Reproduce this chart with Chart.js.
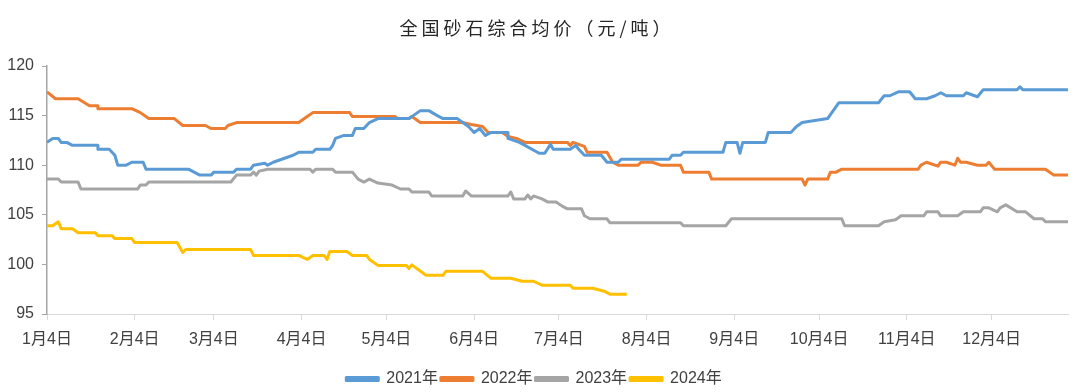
<!DOCTYPE html>
<html>
<head>
<meta charset="utf-8">
<script src="https://cdn.jsdelivr.net/npm/chart.js@4.4.1/dist/chart.umd.min.js"></script>
<style>
  body { margin: 0; background: #fff; }
  #wrap { width: 1080px; height: 392px; }
</style>
</head>
<body>
<div id="wrap"><canvas id="priceChart"></canvas></div>
<script>
// x = days after Jan 4 (Dec 31 = 361)
var tickDays = [0, 31, 59, 90, 120, 151, 181, 212, 243, 273, 304, 334];
var tickLabels = ["1月4日", "2月4日", "3月4日", "4月4日", "5月4日", "6月4日", "7月4日", "8月4日", "9月4日", "10月4日", "11月4日", "12月4日"];
var seriesNames = ["2021年", "2022年", "2023年", "2024年"];
var seriesColors = ["#5B9BD5", "#ED7D31", "#A5A5A5", "#FFC000"];
var chartTitle = "全国砂石综合均价（元/吨）";

var days2021 = [0, 2, 4, 5, 7, 9, 18, 18, 22, 24, 25, 28, 30, 34, 35, 50, 52, 54, 58, 59, 66, 67, 72, 73, 77, 78, 80, 83, 87, 89, 94, 95, 100, 101, 102, 105, 108, 109, 112, 114, 117, 128, 130, 132, 135, 138, 140, 145, 147, 149, 151, 153, 155, 157, 163, 163, 167, 169, 174, 176, 178, 179, 185, 187, 188, 190, 196, 198, 202, 203, 220, 221, 224, 225, 239, 240, 244, 245, 246, 254, 255, 263, 265, 267, 276, 280, 294, 296, 298, 301, 305, 307, 311, 314, 316, 318, 324, 325, 329, 331, 343, 344, 345, 361];
var vals2021 = [112.3, 112.7, 112.7, 112.3, 112.3, 112.0, 112.0, 111.6, 111.6, 111.0, 110.0, 110.0, 110.3, 110.3, 109.6, 109.6, 109.3, 109.0, 109.0, 109.3, 109.3, 109.6, 109.6, 110.0, 110.2, 110.0, 110.3, 110.6, 111.0, 111.3, 111.3, 111.6, 111.6, 112.0, 112.7, 113.0, 113.0, 113.7, 113.7, 114.3, 114.7, 114.7, 115.1, 115.5, 115.5, 115.0, 114.7, 114.7, 114.3, 113.9, 113.3, 113.7, 113.0, 113.3, 113.3, 112.7, 112.3, 112.0, 111.2, 111.2, 112.1, 111.6, 111.6, 112.0, 111.6, 111.0, 111.0, 110.3, 110.3, 110.6, 110.6, 111.0, 111.0, 111.3, 111.3, 112.3, 112.3, 111.2, 112.3, 112.3, 113.3, 113.3, 113.9, 114.3, 114.7, 116.3, 116.3, 117.0, 117.0, 117.4, 117.4, 116.7, 116.7, 117.0, 117.3, 117.0, 117.0, 117.3, 116.9, 117.6, 117.6, 117.9, 117.6, 117.6];

var days2022 = [0, 3, 11, 15, 18, 18, 30, 33, 36, 45, 48, 56, 58, 63, 64, 67, 89, 92, 94, 107, 108, 123, 124, 128, 129, 132, 147, 150, 154, 156, 161, 163, 166, 169, 184, 185, 186, 190, 191, 198, 200, 202, 209, 210, 214, 217, 224, 225, 234, 235, 267, 268, 269, 276, 277, 279, 281, 308, 309, 311, 315, 316, 318, 321, 322, 323, 325, 329, 332, 333, 335, 353, 356, 361];
var vals2022 = [117.4, 116.7, 116.7, 116.0, 116.0, 115.7, 115.7, 115.3, 114.7, 114.7, 114.0, 114.0, 113.7, 113.7, 114.0, 114.3, 114.3, 114.9, 115.3, 115.3, 114.9, 114.9, 114.7, 114.7, 114.9, 114.3, 114.3, 114.1, 113.9, 113.3, 113.3, 112.9, 112.7, 112.3, 112.3, 112.0, 112.3, 111.9, 111.3, 111.3, 110.3, 110.0, 110.0, 110.3, 110.3, 110.0, 110.0, 109.3, 109.3, 108.6, 108.6, 108.0, 108.6, 108.6, 109.3, 109.3, 109.6, 109.6, 110.0, 110.3, 109.9, 110.3, 110.3, 110.0, 110.7, 110.3, 110.3, 110.0, 110.0, 110.3, 109.6, 109.6, 109.0, 109.0];

var days2023 = [0, 4, 5, 11, 12, 32, 33, 35, 36, 65, 67, 72, 73, 74, 75, 78, 93, 94, 95, 101, 102, 108, 110, 112, 114, 117, 122, 125, 128, 129, 135, 136, 147, 148, 150, 163, 164, 165, 169, 170, 171, 172, 175, 177, 180, 182, 184, 189, 190, 192, 198, 199, 224, 225, 240, 242, 281, 282, 294, 296, 300, 302, 310, 311, 315, 316, 322, 324, 330, 331, 333, 336, 337, 339, 343, 346, 349, 352, 353, 361];
var vals2023 = [108.6, 108.6, 108.3, 108.3, 107.6, 107.6, 108.0, 108.0, 108.3, 108.3, 109.0, 109.0, 109.3, 109.0, 109.4, 109.6, 109.6, 109.3, 109.6, 109.6, 109.3, 109.3, 108.6, 108.3, 108.6, 108.2, 108.0, 107.6, 107.6, 107.3, 107.3, 106.9, 106.9, 107.4, 106.9, 106.9, 107.3, 106.6, 106.6, 107.0, 106.6, 106.9, 106.6, 106.3, 106.3, 105.9, 105.6, 105.6, 104.9, 104.6, 104.6, 104.2, 104.2, 103.9, 103.9, 104.6, 104.6, 103.9, 103.9, 104.3, 104.5, 104.9, 104.9, 105.3, 105.3, 104.9, 104.9, 105.3, 105.3, 105.7, 105.7, 105.3, 105.7, 106.0, 105.3, 105.3, 104.6, 104.6, 104.3, 104.3];

var days2024 = [0, 2, 4, 5, 9, 11, 17, 18, 23, 24, 30, 31, 46, 48, 49, 72, 73, 89, 92, 94, 98, 99, 100, 106, 108, 113, 114, 117, 127, 128, 129, 134, 140, 141, 154, 157, 164, 168, 172, 175, 185, 186, 193, 197, 199, 205];
var vals2024 = [103.9, 103.9, 104.3, 103.6, 103.6, 103.2, 103.2, 102.9, 102.9, 102.6, 102.6, 102.2, 102.2, 101.2, 101.5, 101.5, 100.9, 100.9, 100.5, 100.9, 100.9, 100.5, 101.3, 101.3, 100.9, 100.9, 100.5, 99.9, 99.9, 99.6, 99.95, 98.9, 98.9, 99.3, 99.3, 98.6, 98.6, 98.3, 98.3, 97.9, 97.9, 97.6, 97.6, 97.3, 97.0, 97.0];

var allDays = [days2021, days2022, days2023, days2024];
var allVals = [vals2021, vals2022, vals2023, vals2024];

function toPoints(d, v) {
    return d.map(function (x, i) { return { x: x, y: v[i] }; });
}

var fontFamily = "'Liberation Sans', 'Noto Sans CJK SC', sans-serif";

var datasets = seriesNames.map(function (name, k) {
    return {
        label: name,
        data: toPoints(allDays[k], allVals[k]),
        borderColor: seriesColors[k],
        backgroundColor: seriesColors[k],
        borderWidth: 3,
        pointRadius: 0,
        tension: 0,
        borderJoinStyle: 'round'
    };
});

// title drawn by hand so it can get the wide letter spacing of the original
var titlePlugin = {
    id: 'spacedTitle',
    afterDraw: function (chart) {
        var c = chart.ctx;
        c.save();
        c.font = "18px 'Noto Sans CJK SC', sans-serif";
        c.fillStyle = '#262626';
        c.textBaseline = 'middle';
        c.textAlign = 'left';
        if ('letterSpacing' in c) c.letterSpacing = '4px';
        var w = c.measureText(chartTitle).width;
        c.fillText(chartTitle, 537 - w / 2, 28);
        c.restore();
    }
};

var ctx = document.getElementById("priceChart").getContext('2d');
var priceChart = new Chart(ctx, {
    type: 'line',
    data: { datasets: datasets },
    plugins: [titlePlugin],
    options: {
        responsive: true,
        maintainAspectRatio: false,
        animation: false,
        layout: { padding: { left: 0, right: 12, top: 66, bottom: -5 } },
        plugins: {
            title: { display: false },
            legend: {
                position: 'bottom',
                labels: {
                    boxWidth: 32,
                    boxHeight: 3,
                    padding: 3,
                    color: '#404040',
                    font: { family: fontFamily, size: 16 }
                }
            },
            tooltip: { enabled: false }
        },
        scales: {
            x: {
                type: 'linear',
                min: 0,
                max: 361,
                afterBuildTicks: function (axis) {
                    axis.ticks = tickDays.map(function (d) { return { value: d }; });
                },
                afterFit: function (axis) { axis.height = 54; },
                ticks: {
                    autoSkip: false,
                    maxRotation: 0,
                    padding: 10,
                    color: '#404040',
                    font: { family: fontFamily, size: 16 },
                    callback: function (value, index) { return tickLabels[index]; }
                },
                grid: { drawOnChartArea: false, drawTicks: true, tickLength: 6, color: '#D9D9D9' },
                border: { color: '#D9D9D9', width: 1 }
            },
            y: {
                min: 95,
                max: 120,
                afterFit: function (axis) { axis.width = 47; },
                ticks: {
                    stepSize: 5,
                    padding: 8,
                    color: '#404040',
                    font: { family: fontFamily, size: 16 }
                },
                grid: { drawOnChartArea: false, drawTicks: true, tickLength: 5, color: '#A6A6A6' },
                border: { color: '#A6A6A6', width: 1.5 }
            }
        }
    }
});
</script>
</body>
</html>
